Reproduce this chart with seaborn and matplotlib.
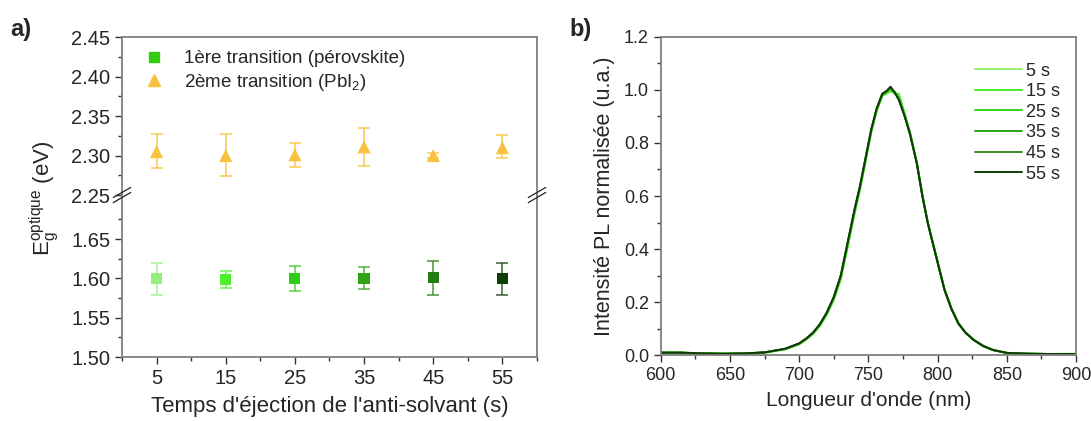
import matplotlib
matplotlib.use('Agg')
import matplotlib.pyplot as plt
from matplotlib.lines import Line2D
from matplotlib.ticker import MultipleLocator
import seaborn as sns
import pandas as pd

# panel a) optical gaps vs anti-solvent dripping time
times = [5, 15, 25, 35, 45, 55]
eg_pero = [1.600, 1.599, 1.600, 1.600, 1.601, 1.600]
eg_pero_lo = [1.579, 1.588, 1.584, 1.586, 1.579, 1.579]
eg_pero_hi = [1.620, 1.609, 1.616, 1.614, 1.622, 1.620]
eg_pbi2 = [2.305, 2.300, 2.301, 2.311, 2.300, 2.310]
eg_pbi2_lo = [2.284, 2.274, 2.286, 2.287, 2.297, 2.297]
eg_pbi2_hi = [2.327, 2.327, 2.316, 2.335, 2.303, 2.326]
greens = ['#95ef7f', '#4cf02a', '#2fcc17', '#2ea315', '#1f7e0f', '#0f3d06']
yellow = '#f8c23e'

# panel b) normalised PL spectra
wavelength = [600, 615, 630, 645, 660, 675, 690, 700, 705, 710, 715, 720, 725, 730,
              735, 740, 744, 748, 752, 756, 760, 763, 766, 769, 772, 776, 780, 785,
              789, 793, 799, 805, 810, 815, 820, 826, 833, 840, 850, 865, 880, 900]
pl_5s = [0.010, 0.009, 0.007, 0.006, 0.006, 0.010, 0.022, 0.041, 0.058, 0.080, 0.110, 0.152,
         0.207, 0.283, 0.405, 0.530, 0.622, 0.728, 0.835, 0.918, 0.975, 0.990, 1.000, 0.992,
         0.978, 0.912, 0.840, 0.728, 0.606, 0.500, 0.374, 0.250, 0.178, 0.122, 0.088, 0.060,
         0.036, 0.021, 0.010, 0.006, 0.005, 0.005]
pl_15s = [0.011, 0.010, 0.008, 0.006, 0.007, 0.010, 0.023, 0.042, 0.060, 0.082, 0.112, 0.155,
          0.210, 0.288, 0.410, 0.536, 0.628, 0.733, 0.840, 0.922, 0.978, 0.985, 0.995, 0.985,
          0.985, 0.915, 0.842, 0.726, 0.603, 0.498, 0.372, 0.248, 0.176, 0.121, 0.087, 0.059,
          0.035, 0.020, 0.009, 0.006, 0.005, 0.006]
pl_25s = [0.010, 0.010, 0.007, 0.006, 0.007, 0.011, 0.024, 0.043, 0.061, 0.083, 0.114, 0.158,
          0.214, 0.292, 0.415, 0.541, 0.632, 0.738, 0.843, 0.925, 0.980, 0.992, 1.003, 0.990,
          0.968, 0.908, 0.838, 0.724, 0.602, 0.497, 0.371, 0.247, 0.175, 0.120, 0.086, 0.058,
          0.035, 0.020, 0.009, 0.006, 0.005, 0.005]
pl_35s = [0.010, 0.010, 0.007, 0.006, 0.007, 0.011, 0.024, 0.044, 0.062, 0.084, 0.116, 0.160,
          0.217, 0.296, 0.420, 0.545, 0.636, 0.741, 0.846, 0.927, 0.982, 0.993, 1.006, 0.990,
          0.966, 0.906, 0.836, 0.723, 0.601, 0.496, 0.371, 0.246, 0.175, 0.120, 0.086, 0.058,
          0.035, 0.020, 0.009, 0.006, 0.005, 0.005]
pl_45s = [0.010, 0.010, 0.007, 0.006, 0.007, 0.011, 0.025, 0.045, 0.063, 0.085, 0.117, 0.161,
          0.219, 0.298, 0.423, 0.548, 0.638, 0.744, 0.848, 0.929, 0.984, 0.994, 1.008, 0.991,
          0.965, 0.905, 0.835, 0.723, 0.600, 0.496, 0.371, 0.246, 0.175, 0.120, 0.086, 0.058,
          0.035, 0.020, 0.009, 0.006, 0.005, 0.005]
pl_55s = [0.010, 0.010, 0.007, 0.006, 0.007, 0.011, 0.025, 0.045, 0.063, 0.085, 0.118, 0.162,
          0.220, 0.300, 0.425, 0.550, 0.640, 0.745, 0.850, 0.930, 0.985, 0.995, 1.012, 0.990,
          0.962, 0.903, 0.834, 0.722, 0.600, 0.496, 0.371, 0.246, 0.175, 0.120, 0.086, 0.058,
          0.035, 0.020, 0.009, 0.006, 0.005, 0.005]
pl_labels = ['5 s', '15 s', '25 s', '35 s', '45 s', '55 s']
pl_colors = ['#8ef36e', '#4ded26', '#36d41c', '#2ba617', '#3a8a2a', '#0f3a08']

sns.set_style('ticks')
plt.rcParams['font.family'] = ['Liberation Sans', 'DejaVu Sans']
plt.rcParams['mathtext.fontset'] = 'custom'
plt.rcParams['mathtext.rm'] = 'Liberation Sans'
plt.rcParams['mathtext.it'] = 'Liberation Sans'
spine_col = '#7f7f7f'

fig = plt.figure(figsize=(10.91, 4.21), dpi=100)
ax_hi = fig.add_axes([0.1118, 0.5368, 0.3804, 0.3752])
ax_lo = fig.add_axes([0.1118, 0.152, 0.3804, 0.3848])
ax_pl = fig.add_axes([0.6056, 0.156, 0.3807, 0.7568])

df_a = pd.DataFrame({'t': times, 'pero': eg_pero, 'pbi2': eg_pbi2})

# errors
for i, t in enumerate(times):
    ax_lo.errorbar(t, eg_pero[i],
                   yerr=[[eg_pero[i] - eg_pero_lo[i]], [eg_pero_hi[i] - eg_pero[i]]],
                   fmt='none', ecolor=greens[i], alpha=0.7, elinewidth=1.3, capsize=4, capthick=1.3)
ax_hi.errorbar(times, eg_pbi2,
               yerr=[[a - b for a, b in zip(eg_pbi2, eg_pbi2_lo)], [b - a for a, b in zip(eg_pbi2, eg_pbi2_hi)]],
               fmt='none', ecolor=yellow, alpha=0.75, elinewidth=1.3, capsize=4, capthick=1.3)

sns.scatterplot(data=df_a, x='t', y='pero', hue='t', palette=greens, marker='s', s=65,
                edgecolor='none', legend=False, ax=ax_lo, zorder=3)
sns.scatterplot(data=df_a, x='t', y='pbi2', color=yellow, marker='^', s=90,
                edgecolor='none', legend=False, ax=ax_hi, zorder=3)

for ax in (ax_hi, ax_lo):
    ax.set_xlim(0, 60)
    ax.set_xlabel('')
    ax.set_ylabel('')
    for s in ax.spines.values():
        s.set_color(spine_col)
        s.set_linewidth(1.3)
    ax.tick_params(which='both', direction='out', color='#333333', labelsize=14.5, width=1)
    ax.tick_params(which='major', length=5)
    ax.tick_params(which='minor', length=3)

ax_hi.set_ylim(2.25, 2.45)
ax_hi.yaxis.set_major_locator(MultipleLocator(0.05))
ax_hi.yaxis.set_minor_locator(MultipleLocator(0.025))
ax_hi.yaxis.set_major_formatter(plt.FormatStrFormatter('%.2f'))
ax_hi.spines['bottom'].set_visible(False)
ax_hi.tick_params(axis='x', which='both', bottom=False, labelbottom=False)

ax_lo.set_ylim(1.50, 1.706)
ax_lo.set_yticks([1.50, 1.55, 1.60, 1.65])
ax_lo.set_yticks([1.525, 1.575, 1.625, 1.675], minor=True)
ax_lo.yaxis.set_major_formatter(plt.FormatStrFormatter('%.2f'))
ax_lo.spines['top'].set_visible(False)
ax_lo.set_xticks(times)
ax_lo.set_xticks([0, 10, 20, 30, 40, 50, 60], minor=True)
ax_lo.set_xlabel("Temps d'éjection de l'anti-solvant (s)", fontsize=16, labelpad=6)

fig.text(0.040, 0.53, r'$\mathregular{E_g^{optique}}$ (eV)', rotation=90, fontsize=16,
         ha='center', va='center')

# axis break marks
for xb in (0.1118, 0.1118 + 0.3804):
    for dy in (-0.006, 0.006):
        fig.add_artist(Line2D([xb - 0.008, xb + 0.008], [0.5368 + dy - 0.012, 0.5368 + dy + 0.012],
                              color='#222222', lw=0.9))

handles = [Line2D([], [], marker='s', ls='none', color='#33cc11', markersize=7),
           Line2D([], [], marker='^', ls='none', color=yellow, markersize=8)]
ax_hi.legend(handles, ['1ère transition (pérovskite)', r'2ème transition (PbI$_2$)'],
             loc='upper left', frameon=False, fontsize=13.5, handletextpad=0.6,
             borderaxespad=0.3, labelspacing=0.25, bbox_to_anchor=(0.0, 1.0))

# panel b
pl_series = [pl_5s, pl_15s, pl_25s, pl_35s, pl_45s, pl_55s]
df_b = pd.concat([pd.DataFrame({'wl': wavelength, 'I': vals, 'temps': lab})
                  for vals, lab in zip(pl_series, pl_labels)], ignore_index=True)
sns.lineplot(data=df_b, x='wl', y='I', hue='temps', palette=pl_colors, lw=1.4,
             ax=ax_pl, sort=False)
ax_pl.set_xlim(600, 900)
ax_pl.set_ylim(0, 1.2)
ax_pl.xaxis.set_major_locator(MultipleLocator(50))
ax_pl.xaxis.set_minor_locator(MultipleLocator(25))
ax_pl.yaxis.set_major_locator(MultipleLocator(0.2))
ax_pl.yaxis.set_minor_locator(MultipleLocator(0.1))
ax_pl.yaxis.set_major_formatter(plt.FormatStrFormatter('%.1f'))
ax_pl.set_xlabel("Longueur d'onde (nm)", fontsize=15, labelpad=5)
ax_pl.set_ylabel('Intensité PL normalisée (u.a.)', fontsize=15.5, labelpad=6)
for s in ax_pl.spines.values():
    s.set_color(spine_col)
    s.set_linewidth(1.3)
ax_pl.tick_params(which='both', direction='out', color='#333333', labelsize=13, width=1)
ax_pl.tick_params(which='major', length=5)
ax_pl.tick_params(which='minor', length=3)
ax_pl.legend(loc='upper right', frameon=False, fontsize=13, handlelength=2.6,
             handletextpad=0.2, labelspacing=0.2, bbox_to_anchor=(1.0, 0.97), title=None)

fig.text(0.009, 0.915, 'a)', fontsize=17, fontweight='bold')
fig.text(0.522, 0.915, 'b)', fontsize=17, fontweight='bold')

fig.savefig('out.png', dpi=100)
